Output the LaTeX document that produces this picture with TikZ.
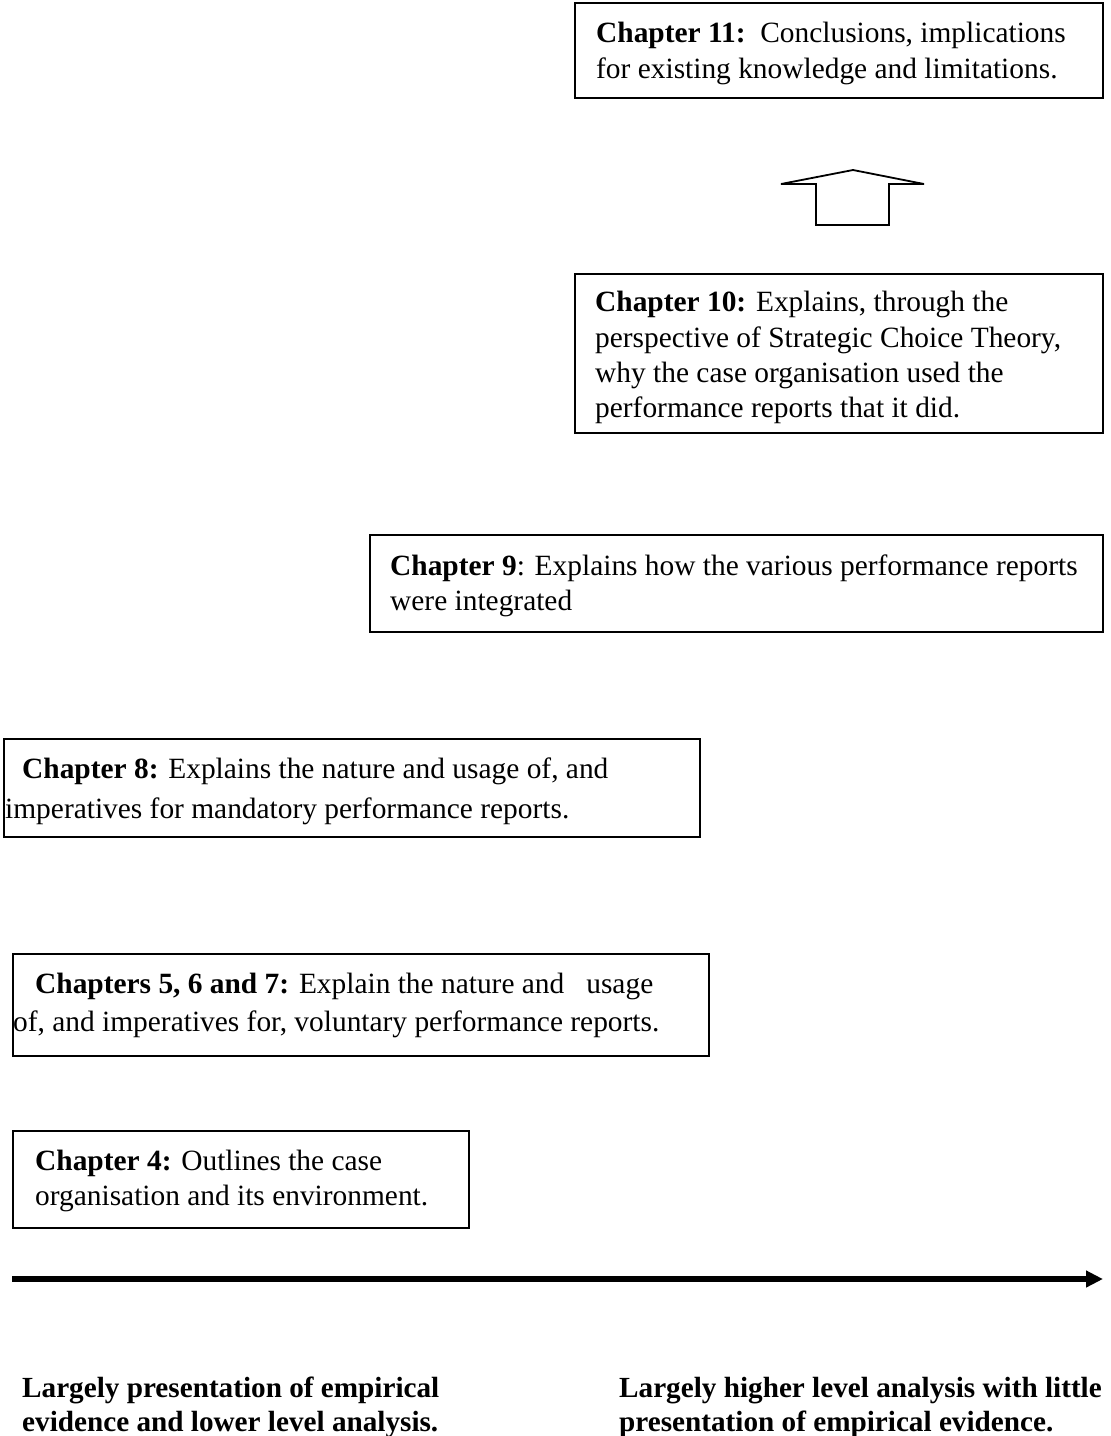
\documentclass[tikz,border=0pt]{standalone}
\usepackage{fontspec}
\setmainfont{Liberation Serif}
\usetikzlibrary{arrows.meta}
\begin{document}
\begin{tikzpicture}[x=1pt,y=-1pt,
  chbox/.style={draw,line width=1.8pt,rectangle,anchor=north west,inner sep=0pt},
  ln/.style={anchor=base west,inner sep=0pt,font=\fontsize{29.4}{35}\selectfont},
  side/.style={anchor=base west,inner sep=0pt,font=\fontsize{29.2}{34}\selectfont\bfseries}]
\useasboundingbox (0,0) rectangle (1111,1436);

% chapter boxes
\node[chbox,minimum width=528pt,minimum height=95pt] (b11) at (574,2) {};
\node[chbox,minimum width=528pt,minimum height=159pt] (b10) at (574,273) {};
\node[chbox,minimum width=733pt,minimum height=97pt] (b9) at (369,534) {};
\node[chbox,minimum width=696pt,minimum height=98pt] (b8) at (3,738) {};
\node[chbox,minimum width=696pt,minimum height=102pt] (b57) at (12,953) {};
\node[chbox,minimum width=456pt,minimum height=97pt] (b4) at (12,1130) {};

% chapter 11
\node[ln] (t11a) at (596,42) {\textbf{Chapter 11:}\ \ Conclusions, implications};
\node[ln] (t11b) at (596,78) {for existing knowledge and limitations.};

% chapter 10
\node[ln] (t10a) at (595,311) {\textbf{Chapter 10:} Explains, through the};
\node[ln] (t10b) at (595,347) {perspective of Strategic Choice Theory,};
\node[ln] (t10c) at (595,382) {why the case organisation used the};
\node[ln] (t10d) at (595,417) {performance reports that it did.};

% chapter 9
\node[ln] (t9a) at (390,575) {\textbf{Chapter 9}: Explains how the various performance reports};
\node[ln] (t9b) at (390,610) {were integrated};

% chapter 8
\node[ln] (t8a) at (22,778) {\textbf{Chapter 8:} Explains the nature and usage of, and};
\node[ln] (t8b) at (5,818) {imperatives for mandatory performance reports.};

% chapters 5, 6 and 7
\node[ln] (t57a) at (35,993) {\textbf{Chapters 5, 6 and 7:} Explain the nature and\hspace{22pt}usage};
\node[ln] (t57b) at (13,1031) {of, and imperatives for, voluntary performance reports.};

% chapter 4
\node[ln] (t4a) at (35,1170) {\textbf{Chapter 4:} Outlines the case};
\node[ln] (t4b) at (35,1205) {organisation and its environment.};

% hollow upward arrow between chapters 10 and 11
\draw[line width=1.8pt,line join=miter] (781,184) -- (853,170) -- (924,184) -- (889,184)
  -- (889,225) -- (816,225) -- (816,184) -- cycle;

% analysis axis
\coordinate (axL) at (12,1279);
\coordinate (axR) at (1103,1279);
\draw[line width=5.5pt,-{Triangle[length=17pt,width=16pt]}] (axL) -- (axR);

% axis end labels
\node[side] (lo1) at (22,1397) {Largely presentation of empirical};
\node[side] (lo2) at (22,1431) {evidence and lower level analysis.};
\node[side] (hi1) at (619,1397) {Largely higher level analysis with little};
\node[side] (hi2) at (619,1431) {presentation of empirical evidence.};
\end{tikzpicture}
\end{document}
